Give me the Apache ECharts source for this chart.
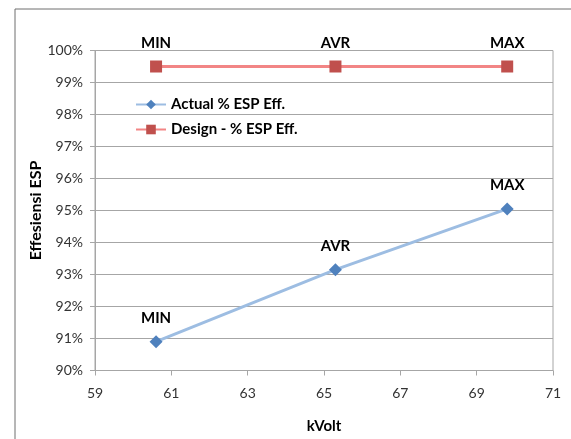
<!DOCTYPE html>
<html>
<head>
<meta charset="utf-8">
<script src="https://cdn.jsdelivr.net/npm/echarts@6/dist/echarts.min.js"></script>
<style>html,body{margin:0;padding:0;background:#fff}#c{width:571px;height:439px}</style>
</head>
<body>
<div id="c"></div>
<script>
var pointNames = ['MIN', 'AVR', 'MAX'];
var kVolt = [60.6, 65.3, 69.8];
var actualEff = [90.9, 93.15, 95.05];
var designEff = [99.5, 99.5, 99.5];
var xTicks = [59, 61, 63, 65, 67, 69, 71];
var yTicks = [90, 91, 92, 93, 94, 95, 96, 97, 98, 99, 100];

var FONT = 'Lato, "Liberation Sans", Arial, sans-serif';

function pairs(xs, ys) { return xs.map(function (x, i) { return [x, ys[i], pointNames[i]]; }); }

var chart = echarts.init(document.getElementById('c'));
chart.setOption({
  animation: false,
  textStyle: { fontFamily: FONT },
  grid: { left: 95, right: 18, top: 50.5, bottom: 68.5, containLabel: false, show: true, borderColor: '#a6a6a6', borderWidth: 1 },
  graphic: [
    { type: 'line', shape: { x1: 15, y1: 9, x2: 15, y2: 439 }, style: { stroke: '#6f6f6f', lineWidth: 1 } },
    { type: 'line', shape: { x1: 15, y1: 9, x2: 571, y2: 9 }, style: { stroke: '#6f6f6f', lineWidth: 1 } }
  ],
  legend: {
    orient: 'vertical', left: 130, top: 92, itemGap: 10, itemWidth: 30, itemHeight: 12,
    textStyle: { fontFamily: FONT, fontSize: 15, fontWeight: 'bold', color: '#000' },
    data: ['Actual % ESP Eff.', 'Design - % ESP Eff.']
  },
  xAxis: {
    type: 'value', min: xTicks[0], max: xTicks[xTicks.length - 1], interval: 2,
    name: 'kVolt', nameLocation: 'middle', nameGap: 48, nameMoveOverlap: false,
    nameTextStyle: { fontFamily: FONT, fontSize: 15, fontWeight: 'bold', color: '#000' },
    axisLine: { show: true, lineStyle: { color: '#a6a6a6' } },
    axisTick: { show: true, length: 5, lineStyle: { color: '#a6a6a6' } },
    splitLine: { show: false },
    axisLabel: { fontFamily: FONT, fontSize: 14, color: '#333', margin: 16 }
  },
  yAxis: {
    type: 'value', min: yTicks[0], max: yTicks[yTicks.length - 1], interval: 1,
    name: 'Effesiensi ESP', nameLocation: 'middle', nameGap: 59, nameMoveOverlap: false,
    nameTextStyle: { fontFamily: FONT, fontSize: 16, fontWeight: 'bold', color: '#000', verticalAlign: 'middle' },
    axisLine: { show: true, lineStyle: { color: '#a6a6a6' } },
    axisTick: { show: true, length: 5, lineStyle: { color: '#a6a6a6' } },
    splitLine: { show: true, lineStyle: { color: '#a6a6a6', width: 1 } },
    axisLabel: { fontFamily: FONT, fontSize: 14, color: '#333', margin: 12, formatter: '{value}%' }
  },
  series: [
    {
      name: 'Actual % ESP Eff.', type: 'line', data: pairs(kVolt, actualEff),
      symbol: 'diamond', symbolSize: 13,
      lineStyle: { color: '#9dbde2', width: 3 },
      itemStyle: { color: '#4f81bd' },
      label: { show: true, position: 'top', distance: 10, fontFamily: FONT, fontSize: 15, fontWeight: 'bold', color: '#000',
        formatter: function (p) { return p.data[2]; } }
    },
    {
      name: 'Design - % ESP Eff.', type: 'line', data: pairs(kVolt, designEff),
      symbol: 'rect', symbolSize: 12,
      lineStyle: { color: '#f28585', width: 3 },
      itemStyle: { color: '#c0504d' },
      label: { show: true, position: 'top', distance: 10, fontFamily: FONT, fontSize: 15, fontWeight: 'bold', color: '#000',
        formatter: function (p) { return p.data[2]; } }
    }
  ]
});
</script>
</body>
</html>
